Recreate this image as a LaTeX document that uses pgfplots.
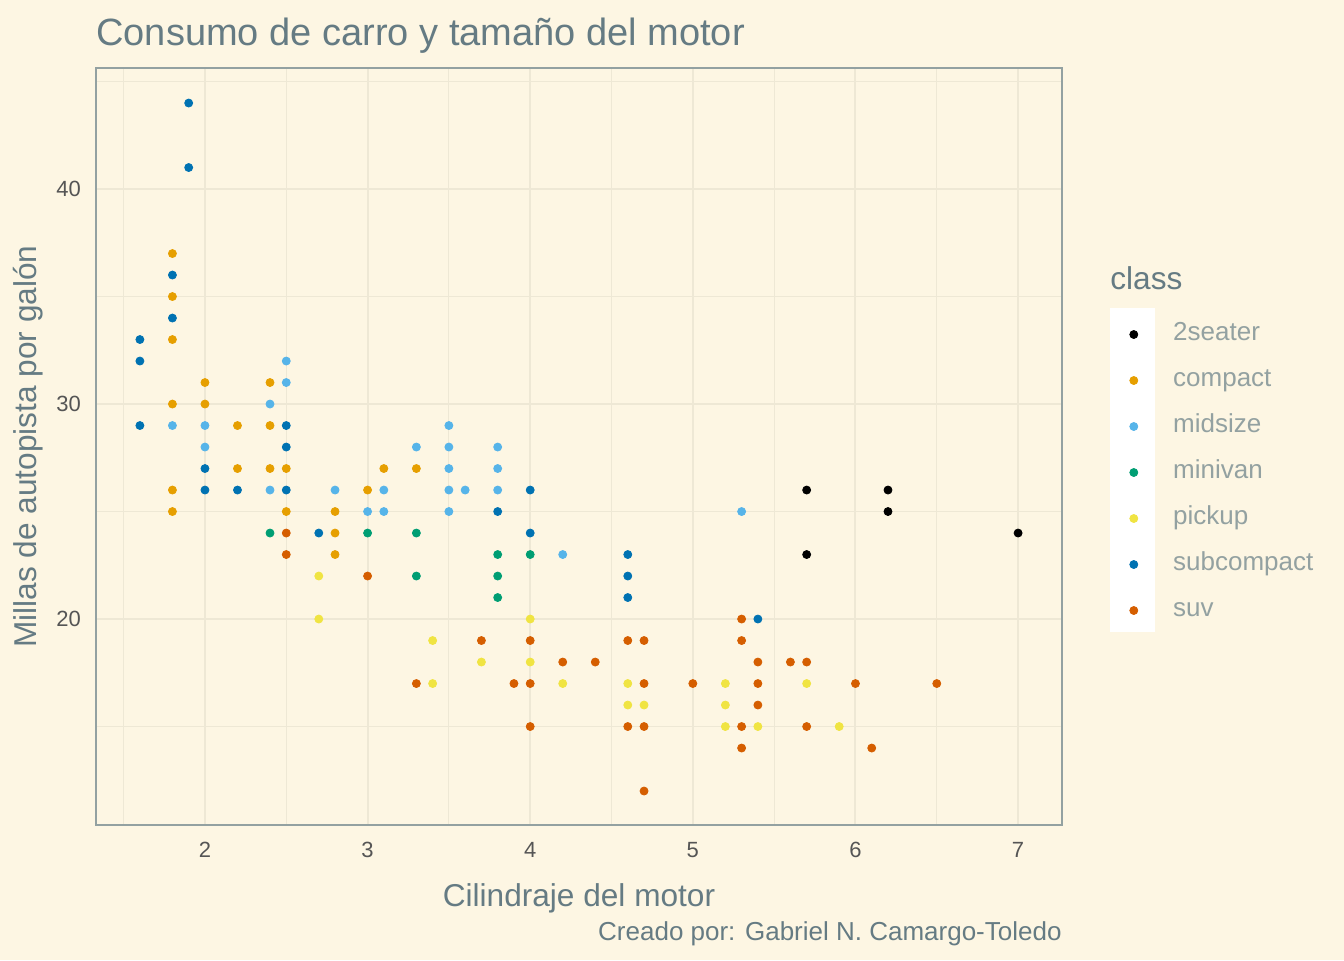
\documentclass[border=0pt]{standalone}
\usepackage{pgfplots}
\pgfplotsset{compat=1.18}
\usepackage{fontspec}
\setmainfont{Liberation Sans}
\definecolor{bg}{HTML}{FDF6E3}
\definecolor{gridc}{HTML}{EEE8D5}
\definecolor{frame}{HTML}{93A1A1}
\definecolor{txt}{HTML}{657B83}
\definecolor{tick}{HTML}{555555}
\definecolor{c1}{HTML}{000000}
\definecolor{c2}{HTML}{E69F00}
\definecolor{c3}{HTML}{56B4E9}
\definecolor{c4}{HTML}{009E73}
\definecolor{c5}{HTML}{F0E442}
\definecolor{c6}{HTML}{0072B2}
\definecolor{c7}{HTML}{D55E00}
\pgfplotsset{pt/.style={only marks, mark=*, mark size=2pt, draw=#1, fill=#1, mark options={draw=#1, fill=#1}}}
\begin{document}
\begin{tikzpicture}
\fill[bg] (0,0) rectangle (672pt,480pt);
\fill[white] (555pt,164pt) rectangle (577.5pt,326pt);
\node[anchor=base west,font=\fontsize{19pt}{22pt}\selectfont,text=txt,inner sep=0] at (48pt,457pt) {Consumo de carro y tamaño del motor};
\node[anchor=base east,font=\fontsize{13pt}{15pt}\selectfont,text=txt,inner sep=0] at (531pt,10pt) {Creado por: Gabriel N. Camargo-Toledo};
\node[anchor=base west,font=\fontsize{15.8pt}{18pt}\selectfont,text=txt,inner sep=0] at (555pt,335pt) {class};
\begin{axis}[
  at={(48pt,67.5pt)}, anchor=south west, scale only axis,
  width=483pt, height=378.5pt,
  xmin=1.33, xmax=7.27, ymin=10.42, ymax=45.63,
  xtick={2,3,4,5,6,7}, ytick={20,30,40},
  minor xtick={1.5,2.5,3.5,4.5,5.5,6.5}, minor ytick={15,25,35,45},
  grid=both,
  major grid style={gridc, line width=1pt},
  minor grid style={gridc, line width=0.5pt},
  axis line style={frame, line width=0.8pt},
  tick style={draw=none},
  ticklabel style={font=\fontsize{11pt}{13pt}\selectfont, text=tick},
  xticklabel style={yshift=-5pt},
  yticklabel style={xshift=-4pt},
  /pgf/number format/assume math mode=true,
  xlabel={Cilindraje del motor}, ylabel={Millas de autopista por galón},
  label style={font=\fontsize{15.8pt}{18pt}\selectfont, text=txt},
  xlabel style={yshift=-6pt}, ylabel style={yshift=0pt},
  legend cell align=left,
  legend style={at={(1.0497,0.663)}, anchor=north west, draw=none, fill=none,
    font=\fontsize{13pt}{15pt}\selectfont, text=frame, inner sep=0pt,
    nodes={inner sep=0pt, text height=8.6pt, text depth=2.4pt},
    row sep=12pt, column sep=8.5pt},
  legend image code/.code={\path (0pt,0pt) (22.5pt,0pt); \draw[#1] plot coordinates {(11.5pt,0pt)};},
]
\addplot[pt=c1] coordinates {(5.7,26)(5.7,23)(6.2,26)(6.2,25)(7,24)};
\addlegendentry{2seater}
\addplot[pt=c2] coordinates {(1.8,37)(1.8,35)(1.8,33)(1.8,30)(1.8,26)(1.8,25)(2,31)(2,30)(2.2,29)(2.2,27)(2.4,31)(2.4,29)(2.4,27)(2.5,27)(2.5,25)(2.8,25)(2.8,24)(2.8,23)(3,26)(3.1,27)(3.3,27)};
\addlegendentry{compact}
\addplot[pt=c3] coordinates {(1.8,29)(2,29)(2,28)(2.4,30)(2.4,26)(2.5,32)(2.5,31)(2.8,26)(3,25)(3.1,26)(3.1,25)(3.3,28)(3.5,29)(3.5,28)(3.5,27)(3.5,26)(3.5,25)(3.6,26)(3.8,28)(3.8,27)(3.8,26)(4.2,23)(5.3,25)};
\addlegendentry{midsize}
\addplot[pt=c4] coordinates {(2.4,24)(3,24)(3.3,24)(3.3,22)(3.8,23)(3.8,22)(3.8,21)(4,23)};
\addlegendentry{minivan}
\addplot[pt=c5] coordinates {(2.7,22)(2.7,20)(3.4,19)(3.4,17)(3.7,18)(4,20)(4,18)(4.2,17)(4.6,17)(4.6,16)(4.7,16)(5.2,17)(5.2,16)(5.2,15)(5.4,15)(5.7,17)(5.9,15)};
\addlegendentry{pickup}
\addplot[pt=c6] coordinates {(1.6,33)(1.6,32)(1.6,29)(1.8,36)(1.8,34)(1.9,44)(1.9,41)(2,27)(2,26)(2.2,26)(2.5,29)(2.5,28)(2.5,26)(2.7,24)(3.8,25)(4,26)(4,24)(4.6,23)(4.6,22)(4.6,21)(5.4,20)};
\addlegendentry{subcompact}
\addplot[pt=c7] coordinates {(2.5,24)(2.5,23)(3,22)(3.3,17)(3.7,19)(3.9,17)(4,19)(4,17)(4,15)(4.2,18)(4.4,18)(4.6,19)(4.6,15)(4.7,19)(4.7,17)(4.7,15)(4.7,12)(5,17)(5.3,20)(5.3,19)(5.3,15)(5.3,14)(5.4,18)(5.4,17)(5.4,16)(5.6,18)(5.7,18)(5.7,15)(6,17)(6.1,14)(6.5,17)};
\addlegendentry{suv}
\end{axis}
\end{tikzpicture}
\end{document}
